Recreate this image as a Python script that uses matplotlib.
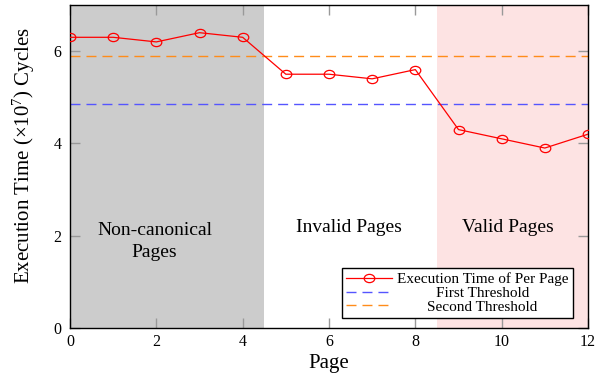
import matplotlib
matplotlib.use("Agg")
import matplotlib.pyplot as plt
from matplotlib.path import Path
from matplotlib.transforms import Affine2D

plt.rcParams['font.family'] = ['Liberation Serif', 'DejaVu Serif']
plt.rcParams['mathtext.fontset'] = 'custom'
plt.rcParams['mathtext.rm'] = 'Liberation Serif'
plt.rcParams['mathtext.it'] = 'Liberation Serif:italic'

pages = [0, 1, 2, 3, 4, 5, 6, 7, 8, 9, 10, 11, 12]
exec_time = [6.3, 6.3, 6.2, 6.4, 6.3, 5.5, 5.5, 5.4, 5.6, 4.3, 4.1, 3.9, 4.2]
first_threshold = 4.85
second_threshold = 5.9
regions = [("Non-canonical\nPages", 0, 4.5, 1.96, 1.87, "#cccccc"),
           ("Invalid Pages", 4.5, 8.5, 6.47, 2.17, None),
           ("Valid Pages", 8.5, 12, 10.15, 2.17, "#fde3e3")]
xticks = [0, 2, 4, 6, 8, 10, 12]
yticks = [0, 2, 4, 6]

fig = plt.figure(figsize=(6, 3.79), dpi=100)
ax = fig.add_axes([70/600, 1-328/379, 518/600, 323/379])

for label, x0, x1, tx, ty, col in regions:
    if col:
        ax.axvspan(x0, x1, color=col, lw=0, zorder=0)
    ax.text(tx, ty, label, ha='center', va='center', fontsize=14, linespacing=1.4, zorder=3)

ell = Path.unit_circle().transformed(Affine2D().scale(1.0, 0.78))
ax.plot(pages, exec_time, color='red', lw=0.9, marker=ell, markersize=7.6,
        markerfacecolor='none', markeredgecolor='red', markeredgewidth=0.9,
        label='Execution Time of Per Page', zorder=4)
ax.axhline(first_threshold, color='#5555ff', lw=1.0, dashes=(7.2, 4.3),
           label='First Threshold', zorder=2)
ax.axhline(second_threshold, color='#ff8c1a', lw=1.0, dashes=(7.2, 4.3),
           label='Second Threshold', zorder=2)

ax.set_xlim(0, 12)
ax.set_ylim(0, 7)
ax.set_xticks(xticks)
ax.set_yticks(yticks)
ax.tick_params(direction='in', length=7, width=1, color='#999999',
               top=True, right=True, labelsize=11.5)
ax.tick_params(axis='x', pad=4)
ax.tick_params(axis='y', pad=6)
for s in ax.spines.values():
    s.set_linewidth(1.0)
    s.set_color('black')

ax.set_xlabel('Page', fontsize=15, labelpad=3)
ax.set_ylabel(r'Execution Time ($\times$10$^7$) Cycles', fontsize=15)
ax.yaxis.set_label_coords(-0.0633, 0.534)

leg = ax.legend(loc='lower right', bbox_to_anchor=(0.9705, 0.03), borderaxespad=0,
                fontsize=11, fancybox=False, framealpha=1, edgecolor='black',
                handlelength=3.0, handletextpad=0.3, labelspacing=0.0,
                borderpad=0.3)
leg.get_frame().set_linewidth(1.0)
leg.set_zorder(5)

fig.canvas.draw()
r = fig.canvas.get_renderer()
widths = [t.get_window_extent(r).width for t in leg.get_texts()]
wmax = max(widths)
for t, w in zip(leg.get_texts(), widths):
    t.set_transform(t.get_transform() + Affine2D().translate((wmax - w) / 2, 0))

fig.savefig('out.png', dpi=100)
